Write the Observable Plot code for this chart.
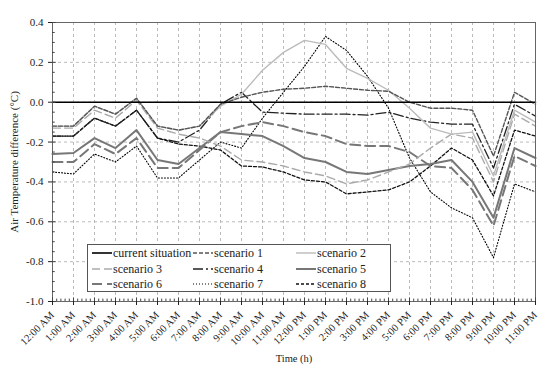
<!DOCTYPE html>
<html><head><meta charset="utf-8">
<script src="https://cdn.jsdelivr.net/npm/d3@7"></script>
<script src="https://cdn.jsdelivr.net/npm/@observablehq/plot@0.6"></script>
<style>
body{margin:0;background:#fff;}
#chart{position:relative;width:550px;height:373px;}
#legend{position:absolute;left:87px;top:244px;width:302px;height:46px;background:#fff;border:1px solid #555;
  font-family:'Liberation Serif','DejaVu Serif',serif;font-size:12px;color:#222;}
#legend .item{position:absolute;display:flex;align-items:center;height:16px;white-space:nowrap;}
#legend svg{display:block;margin-right:1px;}
</style>
</head><body><div id="chart"><div id="legend"></div></div>
<script>
// ---- data ----
const timeLabels = ["12:00 AM","1:00 AM","2:00 AM","3:00 AM","4:00 AM","5:00 AM","6:00 AM","7:00 AM","8:00 AM","9:00 AM","10:00 AM","11:00 AM","12:00 PM","1:00 PM","2:00 PM","3:00 PM","4:00 PM","5:00 PM","6:00 PM","7:00 PM","8:00 PM","9:00 PM","10:00 PM","11:00 PM"];
const hours = [0,1,2,3,4,5,6,7,8,9,10,11,12,13,14,15,16,17,18,19,20,21,22,23];
const seriesNames = ["current situation","scenario 1","scenario 2","scenario 3","scenario 4","scenario 5","scenario 6","scenario 7","scenario 8"];
const currentSituation = [0,0,0,0,0,0,0,0,0,0,0,0,0,0,0,0,0,0,0,0,0,0,0,0];
const scenario1 = [-0.12,-0.12,-0.02,-0.06,0.02,-0.12,-0.14,-0.12,-0.01,0.025,0.05,0.065,0.07,0.08,0.07,0.06,0.055,0.0,-0.03,-0.03,-0.04,-0.27,0.05,-0.01];
const scenario2 = [-0.12,-0.12,-0.02,-0.06,0.02,-0.12,-0.14,-0.12,-0.02,0.04,0.16,0.25,0.31,0.29,0.17,0.12,0.06,-0.03,-0.13,-0.16,-0.15,-0.37,-0.04,-0.10];
const scenario3 = [-0.13,-0.13,-0.04,-0.08,0.01,-0.13,-0.16,-0.18,-0.22,-0.29,-0.30,-0.32,-0.35,-0.37,-0.41,-0.39,-0.35,-0.31,-0.23,-0.16,-0.18,-0.40,-0.06,-0.12];
const scenario4 = [-0.17,-0.17,-0.08,-0.12,-0.04,-0.18,-0.20,-0.14,-0.01,0.05,-0.05,-0.055,-0.06,-0.06,-0.06,-0.065,-0.05,-0.08,-0.10,-0.11,-0.11,-0.33,-0.01,-0.07];
const scenario5 = [-0.26,-0.255,-0.18,-0.23,-0.14,-0.29,-0.31,-0.23,-0.15,-0.16,-0.17,-0.22,-0.28,-0.30,-0.35,-0.36,-0.34,-0.32,-0.31,-0.29,-0.40,-0.58,-0.23,-0.28];
const scenario6 = [-0.30,-0.30,-0.21,-0.26,-0.18,-0.33,-0.33,-0.24,-0.15,-0.12,-0.10,-0.12,-0.15,-0.17,-0.21,-0.22,-0.22,-0.25,-0.32,-0.33,-0.44,-0.62,-0.27,-0.32];
const scenario7 = [-0.35,-0.36,-0.26,-0.30,-0.22,-0.38,-0.38,-0.29,-0.20,-0.23,-0.08,0.05,0.18,0.33,0.26,0.13,-0.03,-0.28,-0.45,-0.53,-0.58,-0.78,-0.41,-0.45];
const scenario8 = [-0.17,-0.17,-0.08,-0.12,-0.04,-0.18,-0.21,-0.22,-0.24,-0.32,-0.325,-0.35,-0.39,-0.40,-0.46,-0.45,-0.44,-0.40,-0.32,-0.23,-0.29,-0.47,-0.14,-0.17];
const seriesValues = [currentSituation,scenario1,scenario2,scenario3,scenario4,scenario5,scenario6,scenario7,scenario8];
const yTicks = [-1.0,-0.8,-0.6,-0.4,-0.2,0.0,0.2,0.4];

// ---- styles ----
const styles = [
  {stroke:"#000", dash:null, width:1.6},
  {stroke:"#555", dash:"4,2", width:1.4},
  {stroke:"#bbb", dash:null, width:1.4},
  {stroke:"#aaa", dash:"8,4", width:1.4},
  {stroke:"#222", dash:"10,3,2,3", width:1.3},
  {stroke:"#777", dash:null, width:2},
  {stroke:"#777", dash:"10,5", width:2},
  {stroke:"#000", dash:"1,2", width:1.1},
  {stroke:"#111", dash:"3,2", width:1.3}
];

const table = seriesNames.flatMap((name,i) => seriesValues[i].map((v,h) => ({series:name, hour:hours[h], value:v})));

const minorX = d3.range(0, 23.0001, 0.2).filter(d => Math.abs(d - Math.round(d)) > 1e-6);
const minorY = d3.range(-1, 0.4001, 0.05).filter(d => Math.abs(d*5 - Math.round(d*5)) > 1e-6);

const lineMarks = [];
for (let i = seriesNames.length - 1; i >= 1; i--) {
  const s = styles[i];
  lineMarks.push(Plot.line(table.filter(d => d.series === seriesNames[i]), {
    x: "hour", y: "value", stroke: s.stroke, strokeWidth: s.width,
    strokeDasharray: s.dash || undefined, strokeLinejoin: "round"
  }));
}
lineMarks.push(Plot.line(table.filter(d => d.series === seriesNames[0]), {
  x: "hour", y: "value", stroke: styles[0].stroke, strokeWidth: styles[0].width
}));

const plot = Plot.plot({
  width: 550, height: 373,
  marginLeft: 52, marginRight: 15, marginTop: 22, marginBottom: 72,
  style: {fontFamily: "'Liberation Serif', 'DejaVu Serif', serif", fontSize: "11px", color: "#222", background: "#fff"},
  x: {type: "linear", domain: [0, 23]},
  y: {domain: [-1, 0.4]},
  marks: [
    Plot.gridX(hours, {stroke: "#bbb", strokeOpacity: 1, strokeDasharray: "3,3"}),
    Plot.gridY(yTicks, {stroke: "#bbb", strokeOpacity: 1, strokeDasharray: "3,3"}),
    ...lineMarks,
    Plot.frame({stroke: "#666"}),
    Plot.ruleX(minorX, {x: d => d, y1: -1, y2: -0.988, stroke: "#444"}),
    Plot.ruleX(hours, {x: d => d, y1: -1, y2: -0.982, stroke: "#444"}),
    Plot.ruleY(minorY, {y: d => d, x1: 0, x2: 0.13, stroke: "#444"}),
    Plot.ruleY(yTicks, {y: d => d, x1: 0, x2: 0.18, stroke: "#444"}),
    Plot.axisX({ticks: hours, tickFormat: i => timeLabels[i], tickRotate: -45, tickSize: 4, fontSize: 10.5,
      label: "Time (h)", labelAnchor: "center", labelOffset: 60, labelArrow: "none", fill: "#222"}),
    Plot.axisY({ticks: yTicks, tickFormat: d => d.toFixed(1), tickSize: 4,
      label: "Air Temperature difference (°C)", labelAnchor: "center", labelOffset: 42, labelArrow: "none", fill: "#222"})
  ]
});
document.getElementById("chart").insertBefore(plot, document.getElementById("legend"));

// ---- legend inside plot area ----
const legend = d3.select("#legend");
const colX = [4, 105, 208];
const rowY = [0, 16, 31];
seriesNames.forEach((name, i) => {
  const r = Math.floor(i / 3), c = i % 3, s = styles[i];
  const item = legend.append("div").attr("class", "item").style("left", colX[c] + "px").style("top", rowY[r] + "px");
  const sw = item.append("svg").attr("width", 20).attr("height", 8);
  sw.append("line").attr("x1", 0).attr("x2", 20).attr("y1", 4).attr("y2", 4)
    .attr("stroke", s.stroke).attr("stroke-width", s.width).attr("stroke-dasharray", s.dash);
  item.append("span").text(name);
});
</script>
</body></html>
